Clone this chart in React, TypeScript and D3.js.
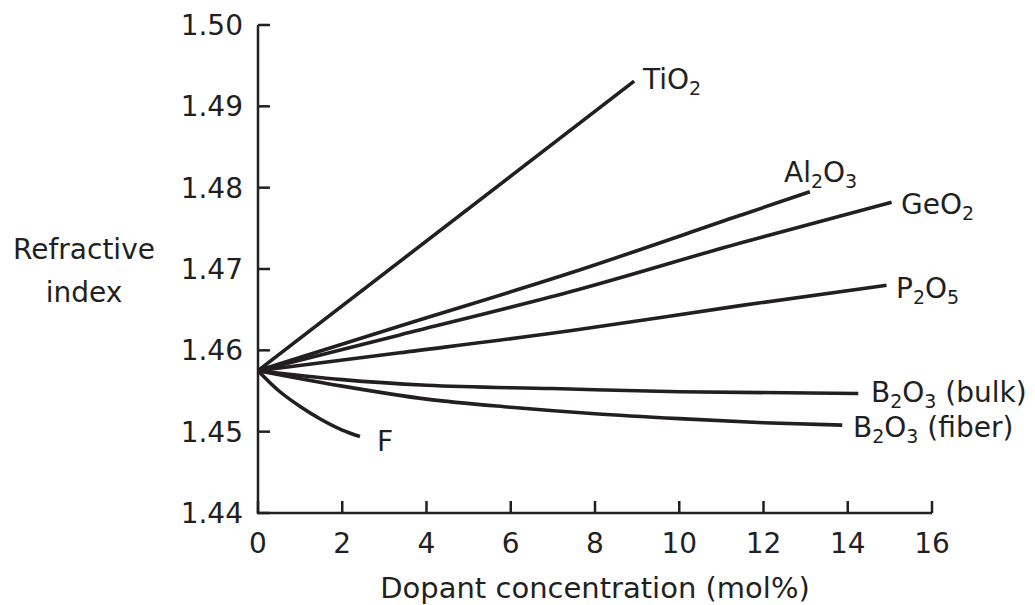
import React from "react";
import * as d3 from "d3";

// Refractive index of silica glass versus dopant concentration (mol%)
const xTicks = [0, 2, 4, 6, 8, 10, 12, 14, 16];
const yTicks = [1.44, 1.45, 1.46, 1.47, 1.48, 1.49, 1.5];

const tio2X = [0, 8.93];
const tio2Y = [1.4575, 1.4931];

const al2o3X = [0, 3.37, 7.41, 11.45, 13.1];
const al2o3Y = [1.4575, 1.463, 1.4695, 1.4766, 1.4795];

const geo2X = [0, 3.37, 7.41, 11.45, 15.04];
const geo2Y = [1.4575, 1.4619, 1.4672, 1.4732, 1.4782];

const p2o5X = [0, 3.37, 7.41, 11.45, 14.92];
const p2o5Y = [1.4575, 1.4597, 1.4624, 1.4655, 1.468];

const b2o3BulkX = [0, 2, 4, 7, 10, 14.25];
const b2o3BulkY = [1.4575, 1.4564, 1.4557, 1.4553, 1.4549, 1.4547];

const b2o3FiberX = [0, 2, 4, 6, 8, 10, 12, 13.87];
const b2o3FiberY = [1.4575, 1.4556, 1.454, 1.453, 1.4522, 1.4516, 1.4511, 1.4508];

const fX = [0, 0.5, 1, 1.5, 2, 2.42];
const fY = [1.4575, 1.455, 1.4531, 1.4515, 1.4502, 1.4494];

type Part = { t: string; sub?: boolean };
type Series = { xs: number[]; ys: number[]; label: Part[]; lx: number; ly: number };

const series: Series[] = [
  { xs: tio2X, ys: tio2Y, label: [{ t: "TiO" }, { t: "2", sub: true }], lx: 643, ly: 89 },
  {
    xs: al2o3X,
    ys: al2o3Y,
    label: [{ t: "Al" }, { t: "2", sub: true }, { t: "O" }, { t: "3", sub: true }],
    lx: 784,
    ly: 182,
  },
  { xs: geo2X, ys: geo2Y, label: [{ t: "GeO" }, { t: "2", sub: true }], lx: 901, ly: 214 },
  {
    xs: p2o5X,
    ys: p2o5Y,
    label: [{ t: "P" }, { t: "2", sub: true }, { t: "O" }, { t: "5", sub: true }],
    lx: 896,
    ly: 298,
  },
  {
    xs: b2o3BulkX,
    ys: b2o3BulkY,
    label: [{ t: "B" }, { t: "2", sub: true }, { t: "O" }, { t: "3", sub: true }, { t: " (bulk)" }],
    lx: 871,
    ly: 402,
  },
  {
    xs: b2o3FiberX,
    ys: b2o3FiberY,
    label: [{ t: "B" }, { t: "2", sub: true }, { t: "O" }, { t: "3", sub: true }, { t: " (fiber)" }],
    lx: 853,
    ly: 437,
  },
  { xs: fX, ys: fY, label: [{ t: "F" }], lx: 377, ly: 451 },
];

const W = 1035;
const H = 605;
const INK = "#231f20";
const FONT = "'DejaVu Sans', sans-serif";

const x = d3.scaleLinear().domain([0, 16]).range([258, 932]);
const y = d3.scaleLinear().domain([1.44, 1.5]).range([513, 25]);

const line = d3
  .line<[number, number]>()
  .x((d) => x(d[0]))
  .y((d) => y(d[1]))
  .curve(d3.curveMonotoneX);

function Label({ parts, lx, ly }: { parts: Part[]; lx: number; ly: number }) {
  const out: React.ReactNode[] = [];
  let shifted = false;
  parts.forEach((p, i) => {
    let dy = 0;
    if (p.sub && !shifted) {
      dy = 6;
      shifted = true;
    } else if (!p.sub && shifted) {
      dy = -6;
      shifted = false;
    }
    out.push(
      <tspan key={i} dy={dy} fontSize={p.sub ? 19 : 28} style={{ whiteSpace: "pre" }}>
        {p.t}
      </tspan>
    );
  });
  return (
    <text x={lx} y={ly} fill={INK} fontFamily={FONT} fontSize={28} xmlSpace="preserve">
      {out}
    </text>
  );
}

export default function App() {
  const [x0, x1] = x.range();
  const [y0, y1] = y.range();
  return (
    <svg
      width={W}
      height={H}
      viewBox={`0 0 ${W} ${H}`}
      style={{ position: "absolute", left: 0, top: 0, background: "#fff" }}
    >
      <rect width={W} height={H} fill="#fff" />
      {/* axes */}
      <path
        d={`M${x0},${y1} V${y0} H${x1}`}
        fill="none"
        stroke={INK}
        strokeWidth={2.5}
        strokeLinejoin="miter"
      />
      {yTicks.map((v) => (
        <g key={`y${v}`}>
          <line x1={x0} x2={x0 + 12} y1={y(v)} y2={y(v)} stroke={INK} strokeWidth={2.5} />
          <text
            x={243}
            y={y(v) + 10}
            textAnchor="end"
            fill={INK}
            fontFamily={FONT}
            fontSize={28}
          >
            {v.toFixed(2)}
          </text>
        </g>
      ))}
      {xTicks.map((v) => (
        <g key={`x${v}`}>
          <line x1={x(v)} x2={x(v)} y1={y0} y2={y0 - 12} stroke={INK} strokeWidth={2.5} />
          <text x={x(v)} y={553} textAnchor="middle" fill={INK} fontFamily={FONT} fontSize={28}>
            {v}
          </text>
        </g>
      ))}
      <text x={(x0 + x1) / 2} y={598} textAnchor="middle" fill={INK} fontFamily={FONT} fontSize={29}>
        Dopant concentration (mol%)
      </text>
      <text x={84} y={259} textAnchor="middle" fill={INK} fontFamily={FONT} fontSize={28}>
        Refractive
      </text>
      <text x={84} y={302} textAnchor="middle" fill={INK} fontFamily={FONT} fontSize={28}>
        index
      </text>
      {/* dopant curves */}
      {series.map((s, i) => (
        <path
          key={i}
          d={line(s.xs.map((v, j) => [v, s.ys[j]] as [number, number])) || ""}
          fill="none"
          stroke={INK}
          strokeWidth={3.6}
          strokeLinecap="butt"
        />
      ))}
      {series.map((s, i) => (
        <Label key={`l${i}`} parts={s.label} lx={s.lx} ly={s.ly} />
      ))}
    </svg>
  );
}
